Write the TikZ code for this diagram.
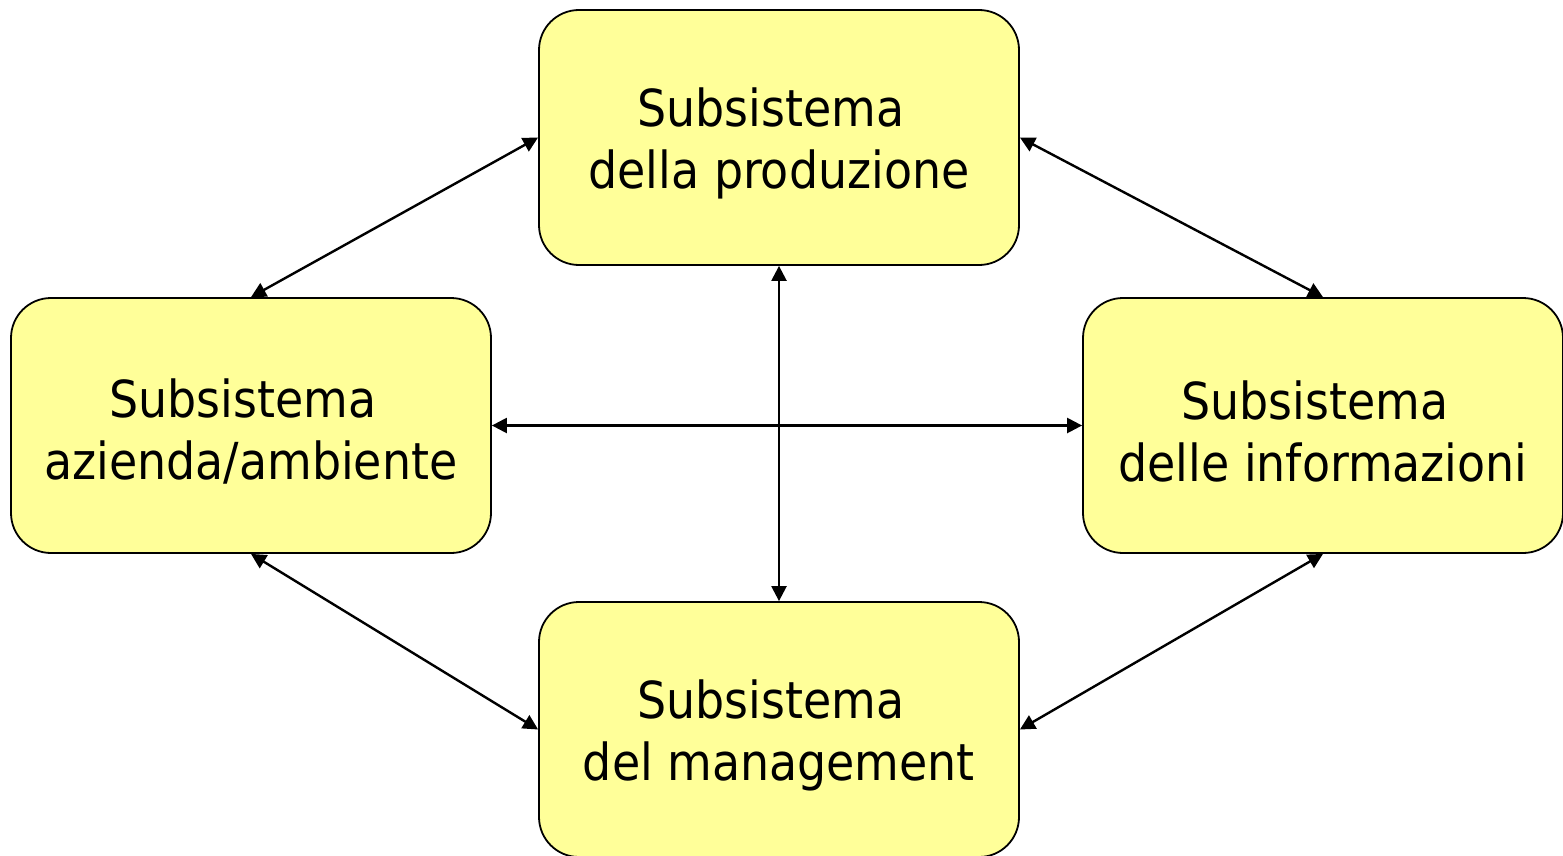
\documentclass[tikz,border=0pt]{standalone}
\usepackage{fontspec}
\setmainfont{DejaVu Sans Condensed}
\usetikzlibrary{arrows.meta}
\definecolor{subfill}{RGB}{255,255,153}
\begin{document}
\begin{tikzpicture}[x=1pt,y=-1pt,
  box/.style={draw=black, line width=1.8pt, fill=subfill, rounded corners=40pt,
    minimum width=480pt, minimum height=255pt, inner sep=0pt},
  lbl/.style={align=center, font=\fontsize{51}{62}\selectfont, inner sep=0pt, yshift=-6pt},
  link/.style={line width=2.4pt,
    {Triangle[length=15pt,width=15pt]}-{Triangle[length=15pt,width=15pt]}}]
\useasboundingbox (0,0) rectangle (1563,856);
\fill[white] (0,0) rectangle (1563,856);

\node[box] (top) at (779,137.5) {};
\node[box] (left) at (251,425.5) {};
\node[box] (right) at (1323,425.5) {};
\node[box] (bottom) at (779,729.5) {};

\node[lbl] (topt) at (top) {Subsistema\kern16pt\\della produzione};
\node[lbl] (leftt) at (left) {Subsistema\kern16pt\\azienda/ambiente};
\node[lbl] (rightt) at (right) {Subsistema\kern16pt\\delle informazioni};
\node[lbl] (bottomt) at (bottom) {Subsistema\kern16pt\\del management};

\draw[link] (top.west) -- (left.north);
\draw[link] (top.east) -- (right.north);
\draw[link] (bottom.west) -- (left.south);
\draw[link] (bottom.east) -- (right.south);
\draw[link] (top.south) -- (bottom.north);
\draw[link] (left.east) -- (right.west);
\end{tikzpicture}
\end{document}
